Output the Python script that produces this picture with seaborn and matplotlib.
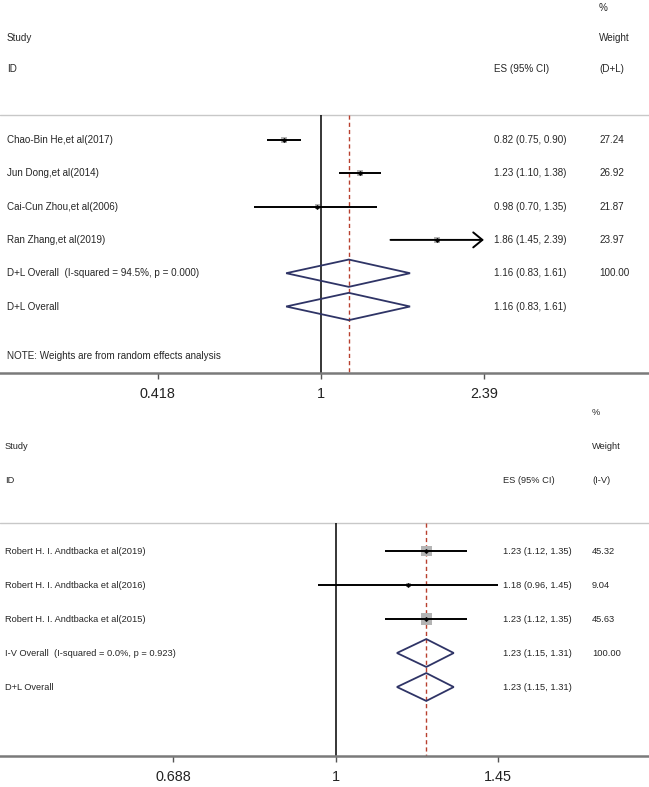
import numpy as np
import seaborn as sns
import matplotlib.pyplot as plt
import matplotlib.transforms as mtransforms
from matplotlib.patches import Polygon

# ---- data: top forest plot (random effects, D+L weights) ----
top_studies = ['Chao-Bin He,et al(2017)', 'Jun Dong,et al(2014)',
               'Cai-Cun Zhou,et al(2006)', 'Ran Zhang,et al(2019)']
top_es = [0.82, 1.23, 0.98, 1.86]
top_lo = [0.75, 1.10, 0.70, 1.45]
top_hi = [0.90, 1.38, 1.35, 2.39]
top_weight = ['27.24', '26.92', '21.87', '23.97']
top_pooled_labels = ['D+L Overall  (I-squared = 94.5%, p = 0.000)', 'D+L Overall']
top_pooled_es = [1.16, 1.16]
top_pooled_lo = [0.83, 0.83]
top_pooled_hi = [1.61, 1.61]
top_pooled_weight = ['100.00', '']
top_ticks = [0.418, 1, 2.39]
top_ticklabels = ['0.418', '1', '2.39']
top_note = 'NOTE: Weights are from random effects analysis'

# ---- data: bottom forest plot (fixed effects, I-V weights) ----
bot_studies = ['Robert H. I. Andtbacka et al(2019)', 'Robert H. I. Andtbacka et al(2016)',
               'Robert H. I. Andtbacka et al(2015)']
bot_es = [1.23, 1.18, 1.23]
bot_lo = [1.12, 0.96, 1.12]
bot_hi = [1.35, 1.45, 1.35]
bot_weight = ['45.32', '9.04', '45.63']
bot_pooled_labels = ['I-V Overall  (I-squared = 0.0%, p = 0.923)', 'D+L Overall']
bot_pooled_es = [1.23, 1.23]
bot_pooled_lo = [1.15, 1.15]
bot_pooled_hi = [1.31, 1.31]
bot_pooled_weight = ['100.00', '']
bot_ticks = [0.688, 1, 1.45]
bot_ticklabels = ['0.688', '1', '1.45']

W, H = 649, 787
DIAMOND_COLOR = '#2f3466'
RED = '#b8402e'
BOX = '#b4b4b4'

sns.set_theme(style='white')
plt.rcParams['font.family'] = ['Liberation Sans', 'DejaVu Sans']

fig = plt.figure(figsize=(W / 100, H / 100), dpi=100)


def fmt_ci(es, lo, hi):
    return f'{es:.2f} ({lo:.2f}, {hi:.2f})'


def forest(ax, studies, es, lo, hi, weight, p_labels, p_es, p_lo, p_hi, p_weight,
           ticks, ticklabels, wlabel, x1_px, px_per_ln, ylim, sep_r,
           label_x, es_x, w_x, fs, box_k, header_r, note=None, note_r=None, arrow_idx=()):
    ax.set_facecolor('none')
    ax.set_xscale('log')
    ax.set_xlim(np.exp(-x1_px / px_per_ln), np.exp((W - x1_px) / px_per_ln))
    ax.set_ylim(*ylim)
    blend = mtransforms.blended_transform_factory(ax.transAxes, ax.transData)

    n = len(studies)
    rows = np.arange(n)
    prow = np.arange(n, n + len(p_labels))
    y_bottom = ylim[0]

    # header
    r_pct, r_study, r_id = header_r
    ax.text(w_x / W, r_pct, '%', transform=blend, fontsize=fs, va='center')
    ax.text(label_x / W, r_study, 'Study', transform=blend, fontsize=fs, va='center')
    ax.text(w_x / W, r_study, 'Weight', transform=blend, fontsize=fs, va='center')
    ax.text(label_x / W, r_id, 'ID', transform=blend, fontsize=fs, va='center')
    ax.text(es_x / W, r_id, 'ES (95% CI)', transform=blend, fontsize=fs, va='center')
    ax.text(w_x / W, r_id, wlabel, transform=blend, fontsize=fs, va='center')
    ax.axhline(sep_r, color='#c8c8c8', lw=1.0)

    # reference lines
    ax.vlines(1, sep_r, y_bottom, color='black', lw=1.1, zorder=2)
    ax.vlines(p_es[0], sep_r, y_bottom, color=RED, lw=1.0, linestyles=(0, (3, 2.2)), zorder=2)

    # study boxes, CI lines, centre points
    sizes = [(box_k * np.sqrt(float(w)) * 0.72) ** 2 for w in weight]
    sns.scatterplot(x=es, y=rows, marker='s', s=sizes, color=BOX, edgecolor='none',
                    ax=ax, legend=False, zorder=3)
    for i in rows:
        if i in arrow_idx:
            ax.annotate('', xy=(hi[i], i), xytext=(lo[i], i), zorder=4,
                        arrowprops=dict(arrowstyle='->,head_length=0.55,head_width=0.45',
                                        lw=1.4, color='black', shrinkA=0, shrinkB=0))
        else:
            ax.hlines(i, lo[i], hi[i], color='black', lw=1.4, zorder=4)
    sns.scatterplot(x=es, y=rows, marker='D', s=6, color='black', edgecolor='black',
                    ax=ax, legend=False, zorder=5)

    # pooled diamonds
    for j, r in enumerate(prow):
        pts = [(p_lo[j], r), (p_es[j], r - 0.41), (p_hi[j], r), (p_es[j], r + 0.41)]
        ax.add_patch(Polygon(pts, closed=True, fill=False, edgecolor=DIAMOND_COLOR,
                             lw=1.3, zorder=4))

    # text columns
    for i, r in enumerate(rows):
        ax.text(label_x / W, r, studies[i], transform=blend, fontsize=fs, va='center')
        ax.text(es_x / W, r, fmt_ci(es[i], lo[i], hi[i]), transform=blend, fontsize=fs, va='center')
        ax.text(w_x / W, r, weight[i], transform=blend, fontsize=fs, va='center')
    for j, r in enumerate(prow):
        ax.text(label_x / W, r, p_labels[j], transform=blend, fontsize=fs, va='center')
        ax.text(es_x / W, r, fmt_ci(p_es[j], p_lo[j], p_hi[j]), transform=blend,
                fontsize=fs, va='center')
        ax.text(w_x / W, r, p_weight[j], transform=blend, fontsize=fs, va='center')
    if note:
        ax.text(label_x / W, note_r, note, transform=blend, fontsize=fs, va='center')

    # axes
    for s in ['top', 'left', 'right']:
        ax.spines[s].set_visible(False)
    ax.spines['bottom'].set_color('#7a7a7a')
    ax.spines['bottom'].set_linewidth(1.8)
    ax.set_yticks([])
    ax.minorticks_off()
    ax.set_xticks(ticks)
    ax.set_xticklabels(ticklabels)
    ax.tick_params(axis='x', which='major', bottom=True, length=4, width=1.0,
                   color='#555555', pad=6, labelsize=10.4, labelcolor='#222222')


def place(top_px, bottom_px):
    return [0, 1 - bottom_px / H, 1, (bottom_px - top_px) / H]


# top panel: rows at 140 + 33.3*r px, axis at 373 px
ax1 = fig.add_axes(place(0, 373))
forest(ax1, top_studies, top_es, top_lo, top_hi, top_weight,
       top_pooled_labels, top_pooled_es, top_pooled_lo, top_pooled_hi, top_pooled_weight,
       top_ticks, top_ticklabels, '(D+L)', x1_px=321, px_per_ln=187,
       ylim=((373 - 140) / 33.3, -140 / 33.3), sep_r=-0.75,
       label_x=7, es_x=494, w_x=599, fs=7.1, box_k=1.1,
       header_r=(-3.95, -3.05, -2.12),
       note=top_note, note_r=6.5, arrow_idx=(3,))

# bottom panel: rows at 551 + 34*r px, axis at 756 px
ax2 = fig.add_axes(place(400, 756))
forest(ax2, bot_studies, bot_es, bot_lo, bot_hi, bot_weight,
       bot_pooled_labels, bot_pooled_es, bot_pooled_lo, bot_pooled_hi, bot_pooled_weight,
       bot_ticks, bot_ticklabels, '(I-V)', x1_px=336, px_per_ln=436,
       ylim=((756 - 551) / 34, (400 - 551) / 34), sep_r=-0.82,
       label_x=5, es_x=503, w_x=592, fs=6.7, box_k=1.63,
       header_r=(-4.06, -3.06, -2.06))

fig.savefig('out.png', dpi=100)
